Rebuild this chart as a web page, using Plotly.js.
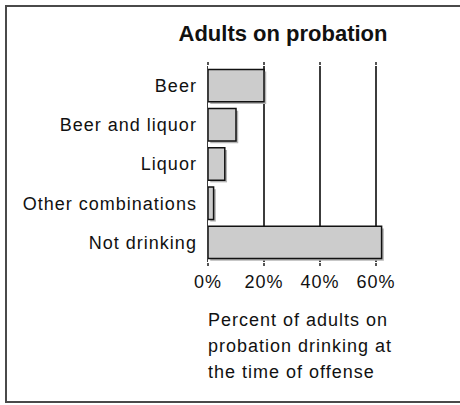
<!DOCTYPE html>
<html>
<head>
<meta charset="utf-8">
<script src="https://cdn.plot.ly/plotly-3.0.1.min.js"></script>
<style>
  html, body { margin: 0; padding: 0; background: #fff; overflow: hidden; }
  #wrap { position: relative; width: 460px; height: 405px; overflow: hidden; }
  .edge { position: absolute; background: #4a4a4a; pointer-events: none; z-index: 2; }
  #chart { position: absolute; left: 0; top: 0; width: 460px; height: 405px; }
  #chart .ytick text, #chart .xtick text, #chart .annotation-text { letter-spacing: 1px; }
</style>
</head>
<body>
<div id="wrap">
  <div id="chart"></div>
  <div class="edge" style="left:5px; top:5px; width:2px; height:398px;"></div>
  <div class="edge" style="left:5px; top:5px; width:455px; height:2px;"></div>
  <div class="edge" style="left:5px; top:401px; width:455px; height:2px;"></div>
</div>
<script>
const categories = ['Beer', 'Beer and liquor', 'Liquor', 'Other combinations', 'Not drinking'];
const values = [20, 10, 6, 2, 62];
const tickValues = [0, 20, 40, 60];
const tickLabels = ['0%', '20%', '40%', '60%'];
const titleText = 'Adults on probation';
const axisTitleLines = ['Percent of adults on', 'probation drinking at', 'the time of offense'];

const FONT = '"Liberation Sans", Arial, Helvetica, sans-serif';
const barW = 0.826;
const shadowDy = 0.056;
const shadowDx = 0.8;

const shadow = {
  type: 'bar', orientation: 'h',
  y: categories, x: values,
  base: shadowDx,
  width: barW, offset: -barW / 2 + shadowDy,
  marker: { color: '#b4b4b4', line: { width: 0 } },
  hoverinfo: 'skip', showlegend: false
};
const bars = {
  type: 'bar', orientation: 'h',
  y: categories, x: values,
  width: barW, offset: -barW / 2,
  marker: { color: '#cccccc', line: { color: '#111111', width: 1.5 } },
  showlegend: false
};

const plotBottom = 262;
const lineCenters = [320, 345.5, 371.5];
const annotations = axisTitleLines.map((t, i) => ({
  text: t, xref: 'paper', yref: 'paper', x: 0, y: 0,
  xanchor: 'left', yanchor: 'middle', align: 'left',
  yshift: -(lineCenters[i] - plotBottom), xshift: -2,
  showarrow: false, font: { family: FONT, size: 18, color: '#111' }
}));

const layout = {
  width: 460, height: 405,
  margin: { l: 208, r: 70, t: 66, b: 143 },
  paper_bgcolor: '#fff', plot_bgcolor: '#fff',
  barmode: 'overlay',
  title: {
    text: '<b>' + titleText + '</b>',
    xref: 'container', yref: 'container',
    x: 283 / 460, xanchor: 'center',
    y: 1 - 33.5 / 405, yanchor: 'middle',
    font: { family: FONT, size: 22, color: '#111' }
  },
  xaxis: {
    range: [0, 65], tickvals: tickValues, ticktext: tickLabels,
    showgrid: true, gridcolor: '#3c3c3c', gridwidth: 1.5,
    zeroline: false, showline: false,
    ticks: 'outside', ticklen: 3, tickwidth: 1.5, tickcolor: '#555', mirror: 'ticks',
    tickfont: { family: FONT, size: 18, color: '#111' },
    fixedrange: true
  },
  yaxis: {
    type: 'category', range: [4.5, -0.5],
    showgrid: false, zeroline: false,
    showline: true, linecolor: '#3c3c3c', linewidth: 1.5,
    ticks: '', ticklabelstandoff: 6,
    tickfont: { family: FONT, size: 18, color: '#111' },
    fixedrange: true
  },
  annotations: annotations
};

Plotly.newPlot('chart', [shadow, bars], layout, { displayModeBar: false, staticPlot: true });
</script>
</body>
</html>
